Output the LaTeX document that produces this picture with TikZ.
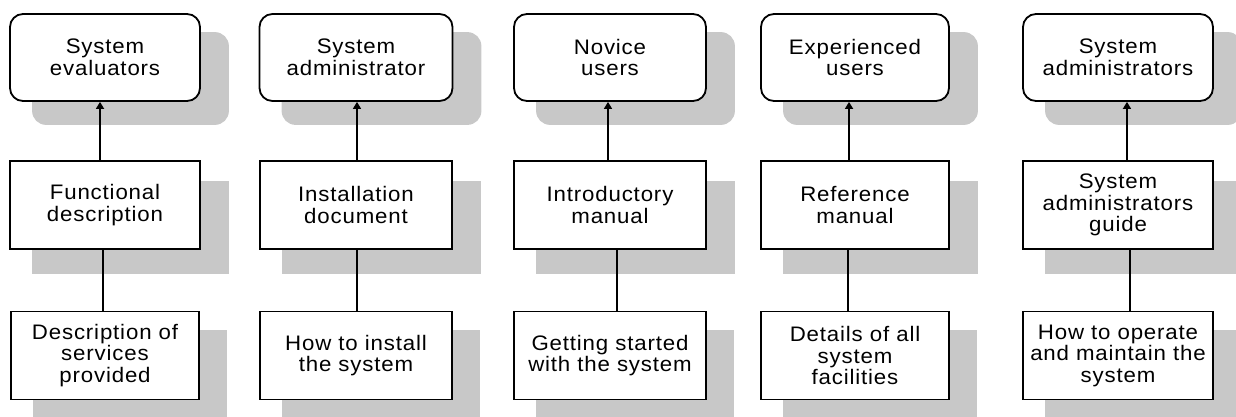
\documentclass[tikz,border=0pt]{standalone}
\usepackage{fontspec}
\usetikzlibrary{arrows.meta,backgrounds}
\newfontfamily\boxfont{Liberation Sans}[FakeStretch=1.06,LetterSpace=4]
\definecolor{shadowgray}{HTML}{C8C8C8}
\tikzset{
  userbox/.style={draw, line width=1.8bp, rounded corners=13bp, fill=white,
    minimum width=#1, minimum height=87bp, inner sep=0pt, align=center,
    font=\boxfont\fontsize{21bp}{21.5bp}\selectfont},
  docbox/.style={draw, line width=1.6bp, fill=white,
    minimum width=#1, minimum height=88bp, inner sep=0pt, align=center,
    font=\boxfont\fontsize{21bp}{21.5bp}\selectfont},
  link/.style={line width=1.6bp},
  uparrow/.style={line width=1.6bp, -{Triangle[length=7bp,width=8bp]}},
}
\begin{document}
\begin{tikzpicture}[x=1bp,y=-1bp]
\useasboundingbox (0,0) rectangle (1236,416);

% ---- boxes ----------------------------------------------------------
% column 1
\node[userbox=190bp] (u1) at (105,57.5) {System\\evaluators};
\node[docbox=190bp]  (d1) at (105,205)  {Functional\\description};
\node[docbox=188bp]  (s1) at (105,355.5){Description of\\services\\provided};
% column 2
\node[userbox=193bp] (u2) at (356,57.5) {System\\administrator};
\node[docbox=192bp]  (d2) at (356,205)  {Installation\\document};
\node[docbox=192bp]  (s2) at (356,355.5){How to install\\the system};
% column 3
\node[userbox=192bp] (u3) at (610,57.5) {Novice\\users};
\node[docbox=192bp]  (d3) at (610,205)  {Introductory\\manual};
\node[docbox=192bp]  (s3) at (610,355.5){Getting started\\with the system};
% column 4
\node[userbox=188bp] (u4) at (855,57.5) {Experienced\\users};
\node[docbox=188bp]  (d4) at (855,205)  {Reference\\manual};
\node[docbox=188bp]  (s4) at (855,355.5){Details of all\\system\\facilities};
% column 5
\node[userbox=190bp] (u5) at (1118,57.5) {System\\administrators};
\node[docbox=190bp]  (d5) at (1118,205)  {System\\administrators\\guide};
\node[docbox=190bp]  (s5) at (1118,355.5){How to operate\\and maintain the\\system};

% ---- shadows, drawn behind the boxes ---------------------------------
\begin{scope}[on background layer]
\foreach \n in {1,...,5}{
    \fill[shadowgray, rounded corners=14bp]
      ([shift={(23,19)}]u\n.north west) rectangle ([shift={(28,23)}]u\n.south east);
    \fill[shadowgray]
      ([shift={(23,21)}]d\n.north west) rectangle ([shift={(28,24)}]d\n.south east);
    \fill[shadowgray]
      ([shift={(23,19)}]s\n.north west) rectangle ([shift={(27,24)}]s\n.south east);
}
\end{scope}

% ---- connectors -------------------------------------------------------
\draw[uparrow] ([xshift=-5]d1.north) -- ([xshift=-5]u1.south);
\draw[link]    ([xshift=-2]s1.north) -- ([xshift=-2]d1.south);
\draw[uparrow] ([xshift=1]d2.north) -- ([xshift=1]u2.south);
\draw[link]    ([xshift=1]s2.north) -- ([xshift=1]d2.south);
\draw[uparrow] ([xshift=-2]d3.north) -- ([xshift=-2]u3.south);
\draw[link]    ([xshift=7]s3.north) -- ([xshift=7]d3.south);
\draw[uparrow] ([xshift=-6]d4.north) -- ([xshift=-6]u4.south);
\draw[link]    ([xshift=-7]s4.north) -- ([xshift=-7]d4.south);
\draw[uparrow] ([xshift=9]d5.north) -- ([xshift=9]u5.south);
\draw[link]    ([xshift=12]s5.north) -- ([xshift=12]d5.south);
\end{tikzpicture}
\end{document}
